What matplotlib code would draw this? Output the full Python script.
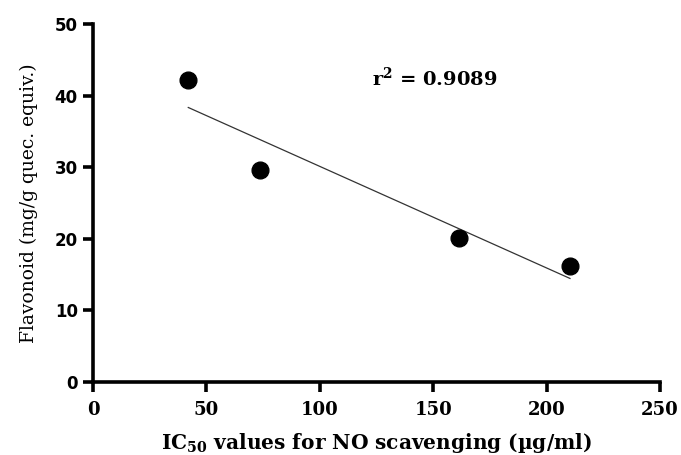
import numpy as np
import matplotlib
matplotlib.use('Agg')
import matplotlib.pyplot as plt

# values
ic50 = [42.0, 73.6, 161.4, 210.3]
flavonoid = [42.2, 29.6, 20.1, 16.2]
x_ticks = [0, 50, 100, 150, 200, 250]
y_ticks = [0, 10, 20, 30, 40, 50]
r2_label = r'r$^{2}$ = 0.9089'

plt.rcParams['mathtext.fontset'] = 'dejavuserif'
plt.rcParams['mathtext.default'] = 'bf'

fig = plt.figure(figsize=(6.81, 4.55), dpi=100)
ax = fig.add_axes([0.1366, 0.1604, 0.8326, 0.7866])

ax.scatter(ic50, flavonoid, s=145, color='black', zorder=3)

slope, intercept = np.polyfit(ic50, flavonoid, 1)
xs = np.array([min(ic50), max(ic50)])
ax.plot(xs, slope * xs + intercept, color='#333333', linewidth=0.9)

ax.set_xlim(0, 250)
ax.set_ylim(0, 50)
ax.set_xticks(x_ticks)
ax.set_yticks(y_ticks)

for side in ['top', 'right']:
    ax.spines[side].set_visible(False)
for side in ['left', 'bottom']:
    ax.spines[side].set_linewidth(2.6)
ax.tick_params(direction='out', length=7, width=2.6)
ax.tick_params(axis='x', pad=7)
ax.tick_params(axis='y', pad=4)

for lab in ax.get_yticklabels():
    lab.set_fontfamily('DejaVu Sans')
    lab.set_fontweight('bold')
    lab.set_fontsize(12)
for lab in ax.get_xticklabels():
    lab.set_fontfamily('DejaVu Serif')
    lab.set_fontweight('bold')
    lab.set_fontsize(13)

ax.set_xlabel(r'IC$_{50}$ values for NO scavenging (µg/ml)',
              fontfamily='DejaVu Serif', fontweight='bold', fontsize=14.5, labelpad=8)
ax.set_ylabel('Flavonoid (mg/g quec. equiv.)',
              fontfamily='DejaVu Serif', fontsize=13.5, labelpad=12)

ax.text(123, 42.4, r2_label, fontfamily='DejaVu Serif', fontweight='bold',
        fontsize=14, va='center', ha='left')

fig.savefig('out.png', dpi=100)
